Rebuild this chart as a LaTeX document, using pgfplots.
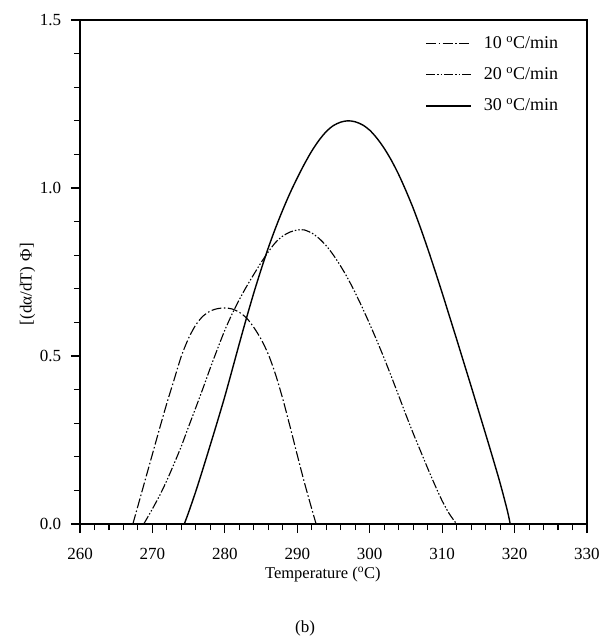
\documentclass[border=0pt]{standalone}
\usepackage{fontspec}
\setmainfont{Liberation Serif}
\usepackage{pgfplots}
\pgfplotsset{compat=1.18}
\begin{document}
\fontsize{17bp}{20bp}\selectfont
\begin{tikzpicture}
\path[use as bounding box] (0,0) rectangle (611bp,643bp);
\begin{axis}[
  at={(80bp,119bp)}, anchor=south west,
  scale only axis, width=507bp, height=504bp,
  xmin=260, xmax=330, ymin=0, ymax=1.5,
  xtick={260,270,...,330}, ytick={0,0.5,1,1.5},
  minor x tick num=4, minor y tick num=4,
  tick align=outside, xtick pos=bottom, ytick pos=left,
  major tick length=9bp, minor tick length=6bp,
  axis line style={line width=1.4bp},
  tick style={line width=1.1bp, black},
  /pgf/number format/assume math mode=true,
  ticklabel style={font=\fontsize{17bp}{20bp}\selectfont},
  xticklabel style={yshift=-9bp},
  yticklabel style={xshift=-4bp, /pgf/number format/.cd, fixed, fixed zerofill, precision=1},
  xlabel={Temperature (\textsuperscript{o}C)},
  ylabel={[(dα/dT)\hspace{0.35em}Φ]},
  xlabel style={font=\fontsize{16.5bp}{19bp}\selectfont, at={(axis description cs:0.479,-0.101)}, anchor=center},
  ylabel style={font=\fontsize{17bp}{20bp}\selectfont, at={(axis description cs:-0.1036,0.476)}, anchor=center},
  legend style={at={(rel axis cs:0.675,0.976)}, anchor=north west, draw=none, fill=none,
    font=\fontsize{18bp}{21bp}\selectfont, row sep=12.5bp},
  legend cell align=left,
  legend image code/.code={\draw[#1] (0bp,0bp) -- (45bp,0bp); \path (55bp,0bp);},
]
\addplot[black, line width=1.1bp, smooth, dash pattern=on 10bp off 2.5bp on 1.5bp off 2.5bp] coordinates {
(267.3,0) (268,0.054) (269,0.131) (270,0.208) (271,0.285) (272,0.360) (273,0.430)
(274,0.500) (275,0.553) (276,0.593) (277,0.619) (278,0.634) (279,0.641) (280,0.643)
(281,0.640) (282,0.630) (283,0.613) (284,0.585) (285,0.550) (286,0.505) (287,0.445)
(288,0.372) (289,0.290) (290,0.205) (291,0.122) (292,0.045) (292.6,0)
};
\addlegendentry{10 \textsuperscript{o}C/min}
\addplot[black, line width=1.1bp, smooth, dash pattern=on 9bp off 2bp on 1.5bp off 2bp on 1.5bp off 2bp] coordinates {
(268.8,0) (270,0.045) (271,0.085) (272,0.130) (273,0.180) (274,0.232) (275,0.290)
(276,0.347) (277,0.405) (278,0.465) (279,0.522) (280,0.577) (281,0.625) (282,0.668)
(283,0.707) (284,0.743) (285,0.778) (286,0.810) (287,0.838) (288,0.857) (289,0.869)
(290,0.875) (290.5,0.876) (291,0.875) (292,0.866) (293,0.850) (294,0.828) (295,0.800)
(296,0.767) (297,0.730) (298,0.688) (299,0.643) (300,0.595) (301,0.545) (302,0.493)
(303,0.438) (304,0.382) (305,0.325) (306,0.270) (307,0.218) (308,0.166) (309,0.116)
(310,0.069) (311,0.030) (312,0)
};
\addlegendentry{20 \textsuperscript{o}C/min}
\addplot[black, line width=1.4bp, smooth] coordinates {
(274.4,0) (275,0.035) (276,0.098) (277,0.166) (278,0.236) (279,0.307) (280,0.380)
(281,0.458) (282,0.537) (283,0.614) (284,0.688) (285,0.757) (286,0.822) (287,0.881)
(288,0.935) (289,0.985) (290,1.030) (291,1.072) (292,1.110) (293,1.142) (294,1.168)
(295,1.186) (296,1.196) (297,1.200) (298,1.197) (299,1.188) (300,1.172) (301,1.148)
(302,1.118) (303,1.082) (304,1.040) (305,0.992) (306,0.940) (307,0.882) (308,0.820)
(309,0.755) (310,0.688) (311,0.619) (312,0.550) (313,0.480) (314,0.410) (315,0.339)
(316,0.268) (317,0.196) (318,0.122) (319,0.040) (319.4,0)
};
\addlegendentry{30 \textsuperscript{o}C/min}
\end{axis}
\node[font=\fontsize{17bp}{20bp}\selectfont] at (305bp,15bp) {(b)};
\end{tikzpicture}
\end{document}
